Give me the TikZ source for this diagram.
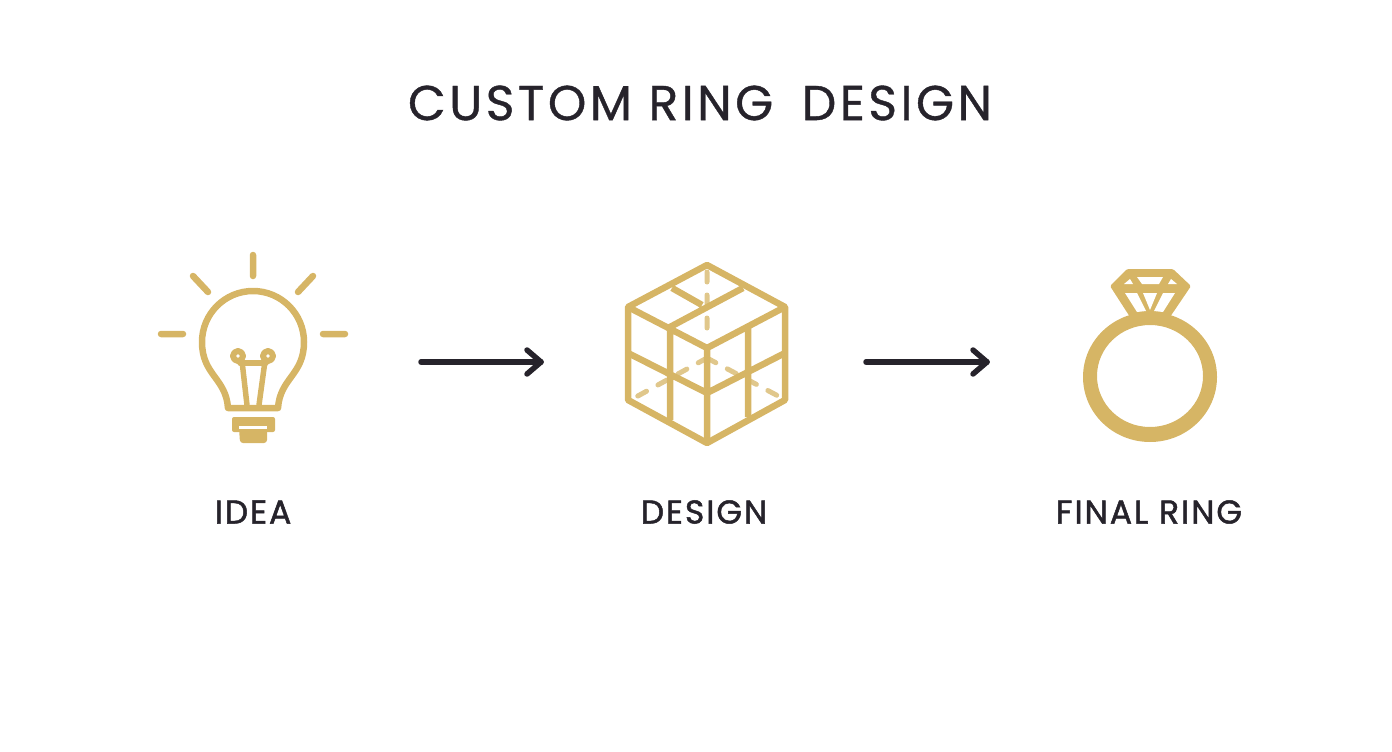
\documentclass[tikz,border=0pt]{standalone}
\usepackage{fontspec}
\setmainfont{Poppins}[FakeBold=0.8, LetterSpace=7]
\newfontfamily\labelfont{Poppins}[FakeBold=1.5, LetterSpace=6]
\usetikzlibrary{positioning}
\definecolor{GoldInk}{HTML}{D6B565}
\definecolor{DarkInk}{HTML}{26232B}
\tikzset{
TitleStyle/.style={text=DarkInk, font=\fontsize{49}{54}\selectfont, inner sep=0pt},
LabelStyle/.style={text=DarkInk, font=\labelfont\fontsize{33}{38}\selectfont, inner sep=0pt},
GoldLine/.style={draw=GoldInk, line width=6.5, line cap=round, line join=round},
GoldThin/.style={draw=GoldInk, line width=6.5, line join=round},
GoldDash/.style={draw=GoldInk!75, line width=5, line cap=round, dash pattern=on 10 off 13},
FlowArrow/.style={draw=DarkInk, line width=5.5, line cap=round, line join=round},
}
\begin{document}
\begin{tikzpicture}[x=1pt, y=-1pt]
\useasboundingbox (0,0) rectangle (1392,752);
\node [TitleStyle] (title) at (700,103) {CUSTOM RING\hspace{12pt} DESIGN};
\node [LabelStyle] (idea) at (253,512) {IDEA};
\node [LabelStyle] (design) at (704,512) {DESIGN};
\node [LabelStyle] (final) at (1149,512) {FINAL RING};

% bulb
\draw [GoldLine] (228,408) .. controls (226,378) and (202,375) .. (202,342)
  arc (-180:0:51) .. controls (304,375) and (280,378) .. (278,408) -- cycle;
\draw [GoldLine, line width=6] (238,356) circle (5) (268,356) circle (5);
\draw [GoldLine, line width=5.5] (240,363) -- (266,363);
\draw [GoldLine, line width=5.5] (242,361) -- (247,405) (265,361) -- (259,405);
\fill [GoldInk, rounded corners=2] (232,417) rectangle (275,432);
\fill [GoldInk, rounded corners=3] (239,428) -- (267,428) -- (267,443) -- (240,443) -- cycle;
\fill [white] (239,425.5) rectangle (267,428.5);
\draw [GoldLine] (253,255) -- (253,276) (193,276) -- (208,292) (313,276) -- (298,292)
  (161,334) -- (183,334) (323,334) -- (345,334);

% cube
\draw [GoldDash] (707,272) -- (707,340) (707,358) -- (636,397) (707,358) -- (780,397);
\draw [GoldThin] (707,265) -- (785,307) -- (785,400) -- (707,443) -- (628,400) -- (628,307) -- cycle;
\draw [GoldThin] (628,307) -- (707,348) -- (785,307) (707,348) -- (707,443)
  (672,288) -- (702,305) (743,288) -- (670,327) -- (670,420) (748,327) -- (748,417)
  (628,353) -- (707,393) -- (785,353);

% ring
\fill [GoldInk, even odd rule] (1150,377) ellipse [x radius=67, y radius=65]
  (1150,376) ellipse [x radius=53, y radius=51];
\fill [GoldInk, rounded corners=1.5] (1127,269) -- (1173,269) -- (1191,286) -- (1170,317) -- (1130,317) -- (1110,286) -- cycle;
\fill [white] (1137,277) -- (1163,277) -- (1159,284) -- (1142,284) -- cycle
  (1124,284) -- (1133,284) -- (1130,279) -- cycle
  (1168,284) -- (1177,284) -- (1171,279) -- cycle
  (1143,293) -- (1157,293) -- (1150,310) -- cycle
  (1125,293) -- (1137,293) -- (1146,311) -- (1137,312) -- cycle
  (1163,293) -- (1175,293) -- (1163,312) -- (1154,311) -- cycle;

% arrows
\coordinate (a1s) at (421,362);
\coordinate (a1e) at (541,362);
\coordinate (a2s) at (866,362);
\coordinate (a2e) at (987,362);
\draw [FlowArrow] (a1s) -- (a1e);
\draw [FlowArrow] ([shift={(-14,-12)}]a1e) -- (a1e) -- ([shift={(-14,12)}]a1e);
\draw [FlowArrow] (a2s) -- (a2e);
\draw [FlowArrow] ([shift={(-14,-12)}]a2e) -- (a2e) -- ([shift={(-14,12)}]a2e);
\end{tikzpicture}
\end{document}
